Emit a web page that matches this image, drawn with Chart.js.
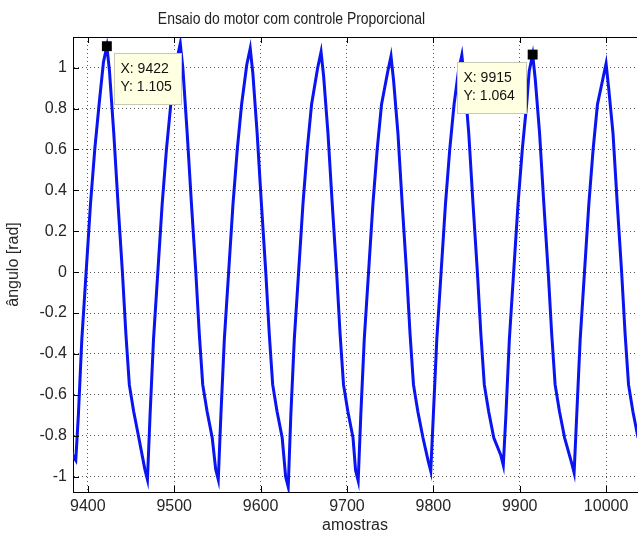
<!DOCTYPE html>
<html>
<head>
<meta charset="utf-8">
<script src="https://cdn.jsdelivr.net/npm/chart.js@4"></script>
<style>
  html, body { margin: 0; padding: 0; background: #fff; overflow: hidden; }
  #wrap { position: relative; width: 644px; height: 537px; }
  #title {
    position: absolute; left: 0; top: 9px; width: 583px; text-align: center;
    font: 17px "Liberation Sans", Arial, sans-serif;
    color: #222; line-height: 20px;
    transform: scaleX(0.82); transform-origin: 291.5px 50%;
  }
</style>
</head>
<body>
<div id="wrap">
  <canvas id="chartCanvas" width="644" height="537"></canvas>
  <div id="title">Ensaio do motor com controle Proporcional</div>
</div>
<script>
// amostras (x) e ângulo [rad] (y)
const samples = [
  9381, 9383, 9386, 9389, 9393, 9398, 9403, 9408, 9413, 9418, 9422,
  9425, 9430, 9435, 9440, 9444, 9448, 9453, 9459, 9466, 9469,
  9472, 9476, 9481, 9486, 9491, 9496, 9503, 9507,
  9510, 9515, 9520, 9525, 9529, 9533, 9538, 9544, 9548, 9551,
  9554, 9558, 9563, 9568, 9573, 9578, 9584, 9588,
  9591, 9596, 9601, 9606, 9610, 9614, 9619, 9625, 9629, 9632,
  9635, 9639, 9644, 9649, 9654, 9659, 9666, 9670,
  9673, 9678, 9683, 9688, 9692, 9696, 9701, 9707, 9710, 9713,
  9716, 9720, 9725, 9730, 9735, 9740, 9747, 9751,
  9754, 9759, 9764, 9769, 9773, 9777, 9782, 9788, 9794, 9797,
  9800, 9804, 9809, 9814, 9819, 9824, 9829, 9833,
  9836, 9841, 9846, 9851, 9855, 9859, 9864, 9870, 9878, 9881,
  9884, 9888, 9893, 9898, 9903, 9908, 9911, 9915,
  9918, 9923, 9928, 9933, 9937, 9941, 9946, 9952, 9960, 9963,
  9966, 9970, 9975, 9980, 9985, 9990, 9996, 10000,
  10003, 10008, 10013, 10018, 10022, 10026, 10031, 10037, 10042
];
const angle = [
  -0.87, -0.9, -0.92, -0.7, -0.33, 0, 0.33, 0.6, 0.82, 1.025, 1.105,
  0.985, 0.68, 0.33, 0, -0.3, -0.55, -0.68, -0.81, -0.964, -1.014,
  -0.7, -0.33, 0, 0.33, 0.6, 0.82, 1.038, 1.118,
  0.998, 0.68, 0.33, 0, -0.3, -0.55, -0.68, -0.81, -0.964, -1.014,
  -0.7, -0.33, 0, 0.33, 0.6, 0.82, 1.014, 1.094,
  0.974, 0.68, 0.33, 0, -0.3, -0.55, -0.68, -0.81, -1.0, -1.05,
  -0.7, -0.33, 0, 0.33, 0.6, 0.82, 0.997, 1.077,
  0.957, 0.68, 0.33, 0, -0.3, -0.55, -0.68, -0.81, -0.97, -1.02,
  -0.7, -0.33, 0, 0.33, 0.6, 0.82, 0.976, 1.056,
  0.936, 0.68, 0.33, 0, -0.3, -0.55, -0.68, -0.81, -0.923, -0.973,
  -0.7, -0.33, 0, 0.33, 0.6, 0.82, 0.981, 1.061,
  0.941, 0.68, 0.33, 0, -0.3, -0.55, -0.68, -0.81, -0.894, -0.944,
  -0.7, -0.33, 0, 0.33, 0.6, 0.82, 0.984, 1.064,
  0.944, 0.68, 0.33, 0, -0.3, -0.55, -0.68, -0.81, -0.931, -0.981,
  -0.7, -0.33, 0, 0.33, 0.6, 0.82, 0.94, 1.02,
  0.9, 0.68, 0.33, 0, -0.3, -0.55, -0.68, -0.81, -0.9
];

// data tips
const tipX = [9422, 9915];
const tipY = [1.105, 1.064];
const tipLabelX = ["X: 9422", "X: 9915"];
const tipLabelY = ["Y: 1.105", "Y: 1.064"];

// eixos
const xTicks = [9400, 9500, 9600, 9700, 9800, 9900, 10000];
const xTickLabels = ["9400", "9500", "9600", "9700", "9800", "9900", "10000"];
const yTicks = [-1, -0.8, -0.6, -0.4, -0.2, 0, 0.2, 0.4, 0.6, 0.8, 1];
const yTickLabels = ["-1", "-0.8", "-0.6", "-0.4", "-0.2", "0", "0.2", "0.4", "0.6", "0.8", "1"];

const FONT = '"Liberation Sans", Arial, sans-serif';
const TEXT = "#262626";

// moldura no estilo matlab: borda superior, ticks para dentro e data tips
const matlabFrame = {
  id: "matlabFrame",
  afterDatasetsDraw(chart) {
    const { ctx, chartArea: a, scales: { x, y } } = chart;
    ctx.save();
    ctx.strokeStyle = "#000";
    ctx.lineWidth = 1;
    ctx.setLineDash([]);
    ctx.beginPath();
    ctx.moveTo(a.left, a.top + 0.5);
    ctx.lineTo(a.right, a.top + 0.5);
    x.ticks.forEach((t) => {
      const px = Math.round(x.getPixelForValue(t.value)) + 0.5;
      ctx.moveTo(px, a.bottom);
      ctx.lineTo(px, a.bottom - 6);
      ctx.moveTo(px, a.top);
      ctx.lineTo(px, a.top + 6);
    });
    y.ticks.forEach((t) => {
      const py = Math.round(y.getPixelForValue(t.value)) + 0.5;
      ctx.moveTo(a.left, py);
      ctx.lineTo(a.left + 6, py);
    });
    ctx.stroke();

    // caixas dos data tips
    const offsets = [[7, 7, 67, 51], [-76, 7, 69, 51]];
    const marks = chart.getDatasetMeta(1).data;
    marks.forEach((pt, i) => {
      const [dx, dy, w, h] = offsets[i];
      const bx = Math.round(pt.x + dx) + 0.5;
      const by = Math.round(pt.y + dy) + 0.5;
      ctx.fillStyle = "#ffffe1";
      ctx.strokeStyle = "#c8c8b4";
      ctx.fillRect(bx, by, w, h);
      ctx.strokeRect(bx, by, w, h);
      ctx.fillStyle = "#111";
      ctx.font = "14px " + FONT;
      ctx.textBaseline = "middle";
      ctx.textAlign = "left";
      ctx.fillText(tipLabelX[i], bx + 6, by + 16);
      ctx.fillText(tipLabelY[i], bx + 6, by + 34);
    });
    ctx.restore();
  },
};

document.addEventListener("DOMContentLoaded", () => {
  const ctx = document.getElementById("chartCanvas").getContext("2d");

  new Chart(ctx, {
    type: "line",
    data: {
      datasets: [
        {
          data: samples.map((s, i) => ({ x: s, y: angle[i] })),
          borderColor: "rgb(10, 20, 240)",
          borderWidth: 3,
          pointRadius: 0,
          tension: 0,
          fill: false,
          order: 2,
        },
        {
          data: tipX.map((s, i) => ({ x: s, y: tipY[i] })),
          showLine: false,
          pointStyle: "rect",
          pointRadius: 7,
          backgroundColor: "#000",
          borderColor: "#000",
          borderWidth: 0,
          clip: false,
          order: 1,
        },
      ],
    },
    options: {
      responsive: false,
      animation: false,
      devicePixelRatio: 1,
      layout: { padding: { top: 37, left: 0, right: 0, bottom: 0 } },
      plugins: {
        legend: { display: false },
        tooltip: { enabled: false },
        title: { display: false },
      },
      scales: {
        x: {
          type: "linear",
          min: 9382.8,
          max: 10035.8,
          afterBuildTicks: (s) => { s.ticks = xTicks.map((v) => ({ value: v })); },
          afterFit: (s) => { s.height = 45; },
          ticks: {
            callback: (v, i) => xTickLabels[i],
            color: TEXT,
            font: { family: FONT, size: 16 },
            padding: 5,
            maxRotation: 0,
          },
          grid: { color: "#555", lineWidth: 1, drawTicks: false },
          border: { display: true, color: "#000", width: 1, dash: [1, 3] },
          title: {
            display: true,
            text: "amostras",
            color: TEXT,
            font: { family: FONT, size: 16 },
            padding: { top: 0, bottom: 2 },
          },
        },
        y: {
          min: -1.075,
          max: 1.15,
          afterBuildTicks: (s) => { s.ticks = yTicks.map((v) => ({ value: v })); },
          afterFit: (s) => { s.width = 73; },
          ticks: {
            callback: (v, i) => yTickLabels[i],
            color: TEXT,
            font: { family: FONT, size: 16 },
            padding: 6,
          },
          grid: { color: "#555", lineWidth: 1, drawTicks: false },
          border: { display: true, color: "#000", width: 1, dash: [1, 3] },
          title: {
            display: true,
            text: "ângulo [rad]",
            color: TEXT,
            font: { family: FONT, size: 16 },
            padding: { top: 4, bottom: 0 },
          },
        },
      },
    },
    plugins: [matlabFrame],
  });
});
</script>
</body>
</html>
